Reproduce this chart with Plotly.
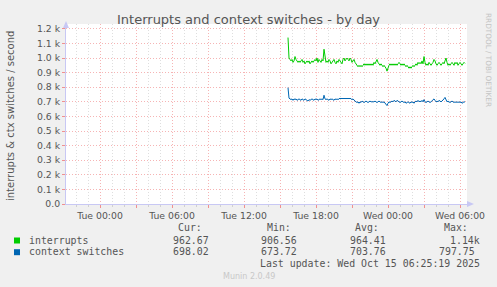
import plotly.graph_objects as go
import pandas as pd

# ---------------- data ----------------
start_time = "2025-10-14 15:40"
step = "5min"

interrupts_k = [
    1.14,
    1.00, 0.99, 0.98, 0.99, 0.97, 0.98, 1.01, 0.99, 0.98, 0.97, 0.98,
    0.97, 0.98, 0.99, 0.97, 0.98, 0.96, 0.97, 0.98, 0.97, 0.98, 0.96, 0.97,
    0.98, 0.97, 0.98, 0.99, 0.98, 1.00, 0.97, 0.99, 0.98, 0.97, 0.99, 0.98,
    1.06, 0.99, 0.97, 0.98, 0.97, 0.99, 0.98, 0.96, 0.97, 0.98, 0.99, 0.97,
    0.96, 0.98, 0.97, 0.99, 0.98, 0.97, 0.96, 0.99, 1.00, 0.98, 0.99, 1.00,
    0.99, 0.98, 1.00, 0.99, 0.97, 0.98, 0.99, 0.97, 0.96, 0.95, 0.94, 0.95,
    0.94, 0.95, 0.94, 0.95, 0.96, 0.95, 0.96, 0.95, 0.96, 0.95, 0.96, 0.95,
    0.96, 0.95, 0.97, 0.96, 0.98, 0.99, 0.97, 0.96, 0.95, 0.96, 0.95, 0.94,
    0.95, 0.94, 0.93, 0.91, 0.94, 0.95, 0.96, 0.95, 0.96, 0.95, 0.96, 0.95,
    0.96, 0.95, 0.96, 0.97, 0.96, 0.95, 0.96, 0.95, 0.96, 0.95, 0.94, 0.95,
    0.94, 0.93, 0.94, 0.93, 0.94, 0.95, 0.94, 0.95, 0.96, 0.95, 0.97, 0.96,
    0.97, 0.96, 0.98, 0.96, 1.01, 0.97, 0.95, 0.96, 0.95, 0.97, 0.96, 0.95,
    0.96, 0.97, 0.99, 0.98, 0.96, 0.95, 0.96, 0.97, 0.96, 0.95, 0.96, 0.97,
    0.96, 0.98, 1.00, 0.97, 0.95, 0.96, 0.95, 0.96, 0.97, 0.96, 0.95, 0.97,
    0.96, 0.97, 0.95, 0.96, 0.97, 0.96, 0.95, 0.96, 0.97, 0.963,
]

context_switches_k = [
    0.797,
    0.725, 0.72, 0.715, 0.72, 0.71, 0.72, 0.715, 0.72, 0.71, 0.715, 0.72,
    0.715, 0.71, 0.72, 0.715, 0.71, 0.72, 0.715, 0.71, 0.705, 0.715, 0.71, 0.715,
    0.72, 0.715, 0.71, 0.72, 0.715, 0.72, 0.71, 0.715, 0.72, 0.715, 0.72, 0.715,
    0.745, 0.72, 0.715, 0.72, 0.715, 0.71, 0.72, 0.715, 0.72, 0.715, 0.71, 0.72,
    0.715, 0.72, 0.715, 0.72, 0.725, 0.72, 0.725, 0.72, 0.725, 0.72, 0.725, 0.72,
    0.725, 0.72, 0.725, 0.72, 0.715, 0.72, 0.71, 0.705, 0.70, 0.695, 0.70, 0.69,
    0.70, 0.695, 0.705, 0.70, 0.695, 0.70, 0.705, 0.70, 0.695, 0.70, 0.705, 0.70,
    0.70, 0.695, 0.70, 0.705, 0.70, 0.695, 0.70, 0.705, 0.70, 0.695, 0.70, 0.695,
    0.70, 0.69, 0.68, 0.674, 0.69, 0.70, 0.695, 0.70, 0.705, 0.70, 0.71, 0.705,
    0.70, 0.71, 0.705, 0.70, 0.695, 0.70, 0.705, 0.70, 0.695, 0.70, 0.69, 0.695,
    0.70, 0.695, 0.69, 0.70, 0.695, 0.70, 0.69, 0.70, 0.705, 0.70, 0.71, 0.70,
    0.705, 0.70, 0.71, 0.70, 0.715, 0.70, 0.695, 0.70, 0.705, 0.70, 0.695, 0.70,
    0.705, 0.71, 0.72, 0.71, 0.70, 0.705, 0.70, 0.71, 0.705, 0.70, 0.705, 0.71,
    0.72, 0.73, 0.71, 0.70, 0.705, 0.70, 0.695, 0.70, 0.705, 0.70, 0.695, 0.70,
    0.695, 0.70, 0.695, 0.70, 0.695, 0.70, 0.69, 0.695, 0.70, 0.698,
]

series_names = ["interrupts", "context switches"]
series_colors = ["#00CC00", "#0066B3"]

y_tickvals = [0.0, 0.1, 0.2, 0.3, 0.4, 0.5, 0.6, 0.7, 0.8, 0.9, 1.0, 1.1, 1.2]
y_ticktext = ["0.0", "0.1 k", "0.2 k", "0.3 k", "0.4 k", "0.5 k", "0.6 k",
              "0.7 k", "0.8 k", "0.9 k", "1.0 k", "1.1 k", "1.2 k"]

x_tickvals = ["2025-10-14 00:00", "2025-10-14 03:00", "2025-10-14 06:00",
              "2025-10-14 09:00", "2025-10-14 12:00", "2025-10-14 15:00",
              "2025-10-14 18:00", "2025-10-14 21:00", "2025-10-15 00:00",
              "2025-10-15 03:00", "2025-10-15 06:00"]
x_ticktext = ["Tue 00:00", "", "Tue 06:00", "", "Tue 12:00", "",
              "Tue 18:00", "", "Wed 00:00", "", "Wed 06:00"]

stats_header = ["Cur:", "Min:", "Avg:", "Max:"]
stats_interrupts = ["962.67", "906.56", "964.41", "1.14k"]
stats_ctx = ["698.02", "673.72", "703.76", "797.75"]
last_update = "Last update: Wed Oct 15 06:25:19 2025"

# ---------------- geometry helpers ----------------
W, H = 497, 287
L, R, T, B = 66, 467, 24, 204


def px(x):
    return (x - L) / (R - L)


def py(y):
    return (B - y) / (B - T)


times = pd.date_range(start_time, periods=len(interrupts_k), freq=step)

fig = go.Figure()
for name, vals, col in zip(series_names, [interrupts_k, context_switches_k], series_colors):
    fig.add_trace(go.Scatter(x=times, y=vals, mode="lines", name=name,
                             line=dict(color=col, width=1), showlegend=False,
                             hoverinfo="skip"))

ymax = (B - T) / (175.2 / 1.2)

TXT = "#555555"
RED = "#F6B4B4"
GRAY = "#DEDEDE"
fig.update_layout(
    width=W, height=H,
    margin=dict(l=L, r=W - R, t=T, b=H - B, pad=0),
    paper_bgcolor="#F0F0F0",
    plot_bgcolor="#FFFFFF",
    font=dict(family="DejaVu Sans", size=9.3, color=TXT),
    xaxis=dict(
        type="date",
        range=["2025-10-13 21:10", "2025-10-15 06:35"],
        tickvals=x_tickvals, ticktext=x_ticktext,
        showgrid=True, gridcolor=RED, griddash="1px,2px", gridwidth=1,
        ticks="outside", ticklen=3, tickcolor="#F09090",
        showline=True, linecolor="#C8C8F4", linewidth=1,
        zeroline=False,
        tickfont=dict(family="DejaVu Sans", size=9.3, color=TXT),
        minor=dict(dtick=3600000, tick0="2025-10-14 00:00", showgrid=True,
                   gridcolor=GRAY, griddash="1px,2px", gridwidth=1,
                   ticks="outside", ticklen=2, tickcolor="#D0D0D0"),
    ),
    yaxis=dict(
        range=[0, ymax],
        tickvals=y_tickvals, ticktext=y_ticktext,
        showgrid=True, gridcolor=RED, griddash="1px,2px", gridwidth=1,
        ticks="outside", ticklen=3, tickcolor="#F09090",
        showline=True, linecolor="#C8C8F4", linewidth=1,
        zeroline=False,
        tickfont=dict(family="DejaVu Sans", size=9.3, color=TXT),
    ),
)

shapes = []
# axis arrows
shapes.append(dict(type="path", xref="paper", yref="paper",
                   path=f"M {px(63)} {py(28)} L {px(69)} {py(28)} L {px(66)} {py(21)} Z",
                   fillcolor="#C8C8F4", line=dict(width=0)))
shapes.append(dict(type="path", xref="paper", yref="paper",
                   path=f"M {px(467)} {py(201)} L {px(467)} {py(207)} L {px(474)} {py(204)} Z",
                   fillcolor="#C8C8F4", line=dict(width=0)))
# legend squares
for col, yc in zip(series_colors, [240.5, 252.2]):
    shapes.append(dict(type="rect", xref="paper", yref="paper",
                       x0=px(14), x1=px(20), y0=py(yc - 3), y1=py(yc + 3),
                       fillcolor=col, line=dict(width=0)))
fig.update_layout(shapes=shapes)

ann = []


def text(x, y, s, xanchor="left", size=9.9, color=TXT, family="DejaVu Sans Mono", angle=0):
    ann.append(dict(x=px(x), y=py(y), xref="paper", yref="paper", text=s,
                    showarrow=False, xanchor=xanchor, yanchor="middle",
                    textangle=angle,
                    font=dict(family=family, size=size, color=color)))


text(248.5, 19, "Interrupts and context switches - by day", xanchor="center",
     size=13, color="#555555", family="DejaVu Sans")
text(10, 116, "interrupts &amp; ctx switches / second", xanchor="center",
     size=10, color=TXT, family="DejaVu Sans", angle=-90)
text(488, 60, "RRDTOOL / TOBI OETIKER", xanchor="center", size=7.3,
     color="#C4C4C4", family="DejaVu Sans", angle=90)

header_x = [204, 293, 380.7, 470]
val_x1 = [210.7, 299.3, 387.7, 482.3]
val_x2 = [210.7, 299.3, 387.7, 476.7]
for s, x in zip(stats_header, header_x):
    text(x, 227.7, s, xanchor="right")
text(26.7, 240, series_names[0])
text(26.7, 251.7, series_names[1])
for s, x in zip(stats_interrupts, val_x1):
    text(x, 240, s, xanchor="right")
for s, x in zip(stats_ctx, val_x2):
    text(x, 251.7, s, xanchor="right")
text(482.3, 263.3, last_update, xanchor="right")
text(248.8, 276, "Munin 2.0.49", xanchor="center", size=8, color="#C8C8C8",
     family="DejaVu Sans")

fig.update_layout(annotations=ann)
fig.write_html("out.html")
